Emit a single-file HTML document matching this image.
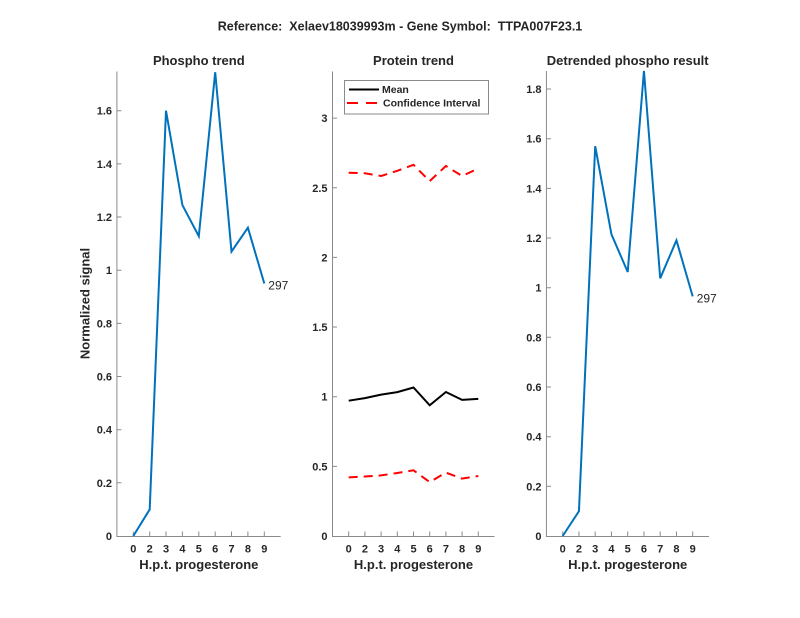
<!DOCTYPE html>
<html>
<head>
<meta charset="utf-8">
<style>
html,body{margin:0;padding:0;background:#fff;}
svg{display:block;}
text{font-family:"Liberation Sans",Arial,sans-serif;fill:#262626;}
.tk{font-size:11px;font-weight:bold;}
.lg{font-size:10.5px;font-weight:bold;}
.ttl{font-size:13px;font-weight:bold;}
.ax{stroke:#8a8a8a;stroke-width:1;fill:none;}
</style>
</head>
<body>
<svg width="800" height="618" viewBox="0 0 800 618" xmlns="http://www.w3.org/2000/svg">
<rect width="800" height="618" fill="#fff"/>

<!-- Main title -->
<text x="400" y="30.5" text-anchor="middle" style="font-size:12.5px;font-weight:bold" xml:space="preserve">Reference:  Xelaev18039993m - Gene Symbol:  TTPA007F23.1</text>

<!-- ============ Left panel ============ -->
<text x="198.8" y="65" text-anchor="middle" class="ttl">Phospho trend</text>
<path class="ax" d="M116.9,71.5 V536.5 H280.7"/>
<g class="ax">
<path d="M116.9,482.8h4.5M116.9,429.7h4.5M116.9,376.5h4.5M116.9,323.4h4.5M116.9,270.2h4.5M116.9,217h4.5M116.9,163.9h4.5M116.9,110.7h4.5"/>
<path d="M133.3,536v-4.5M149.7,536v-4.5M166,536v-4.5M182.4,536v-4.5M198.8,536v-4.5M215.2,536v-4.5M231.5,536v-4.5M247.9,536v-4.5M264.3,536v-4.5"/>
</g>
<g class="tk" text-anchor="end">
<text x="112" y="540">0</text>
<text x="112" y="486.8">0.2</text>
<text x="112" y="433.7">0.4</text>
<text x="112" y="380.5">0.6</text>
<text x="112" y="327.4">0.8</text>
<text x="112" y="274.2">1</text>
<text x="112" y="221">1.2</text>
<text x="112" y="167.9">1.4</text>
<text x="112" y="114.7">1.6</text>
</g>
<g class="tk" text-anchor="middle">
<text x="133.3" y="552.5">0</text>
<text x="149.7" y="552.5">2</text>
<text x="166" y="552.5">3</text>
<text x="182.4" y="552.5">4</text>
<text x="198.8" y="552.5">5</text>
<text x="215.2" y="552.5">6</text>
<text x="231.5" y="552.5">7</text>
<text x="247.9" y="552.5">8</text>
<text x="264.3" y="552.5">9</text>
</g>
<text x="198.8" y="569" text-anchor="middle" class="ttl">H.p.t. progesterone</text>
<text transform="translate(89.5,303.5) rotate(-90)" text-anchor="middle" class="ttl">Normalized signal</text>
<polyline fill="none" stroke="#0072BD" stroke-width="2" stroke-linejoin="miter" points="133.3,536 149.7,509.4 166,110.7 182.4,205.1 198.8,236.2 215.2,72.2 231.5,251.6 247.9,227.7 264.3,283.5"/>
<text x="268.3" y="289.3" style="font-size:12px">297</text>

<!-- ============ Middle panel ============ -->
<text x="413.5" y="65" text-anchor="middle" class="ttl">Protein trend</text>
<path class="ax" d="M332.5,71.5 V536.5 H494.5"/>
<g class="ax">
<path d="M332.5,466.35h4.5M332.5,396.7h4.5M332.5,327.05h4.5M332.5,257.4h4.5M332.5,187.75h4.5M332.5,118.1h4.5"/>
<path d="M348.7,536v-4.5M364.9,536v-4.5M381.1,536v-4.5M397.3,536v-4.5M413.5,536v-4.5M429.7,536v-4.5M445.9,536v-4.5M462.1,536v-4.5M478.3,536v-4.5"/>
</g>
<g class="tk" text-anchor="end">
<text x="327.5" y="540">0</text>
<text x="327.5" y="470.35">0.5</text>
<text x="327.5" y="400.7">1</text>
<text x="327.5" y="331.05">1.5</text>
<text x="327.5" y="261.4">2</text>
<text x="327.5" y="191.75">2.5</text>
<text x="327.5" y="122.1">3</text>
</g>
<g class="tk" text-anchor="middle">
<text x="348.7" y="552.5">0</text>
<text x="364.9" y="552.5">2</text>
<text x="381.1" y="552.5">3</text>
<text x="397.3" y="552.5">4</text>
<text x="413.5" y="552.5">5</text>
<text x="429.7" y="552.5">6</text>
<text x="445.9" y="552.5">7</text>
<text x="462.1" y="552.5">8</text>
<text x="478.3" y="552.5">9</text>
</g>
<text x="413.5" y="569" text-anchor="middle" class="ttl">H.p.t. progesterone</text>
<polyline fill="none" stroke="#000" stroke-width="2" points="348.7,400.7 364.9,398.1 381.1,394.6 397.3,392.1 413.5,387.5 429.7,405.3 445.9,392 462.1,399.9 478.3,398.9"/>
<polyline fill="none" stroke="#FF0000" stroke-width="2" stroke-dasharray="9,6" points="348.7,477.4 364.9,476.5 381.1,475.4 397.3,473 413.5,470.3 429.7,482.1 445.9,472.6 462.1,478.6 478.3,476"/>
<polyline fill="none" stroke="#FF0000" stroke-width="2" stroke-dasharray="9,6" points="348.7,172.7 364.9,173.3 381.1,176 397.3,170.8 413.5,164.8 429.7,181.1 445.9,166 462.1,176 478.3,168.5"/>
<!-- legend -->
<rect x="344.5" y="80.5" width="144" height="33.5" fill="#fff" stroke="#8a8a8a" stroke-width="1"/>
<line x1="349" y1="89.5" x2="379" y2="89.5" stroke="#000" stroke-width="2"/>
<line x1="347" y1="103" x2="379" y2="103" stroke="#FF0000" stroke-width="2" stroke-dasharray="11,8"/>
<text x="382" y="93" class="lg">Mean</text>
<text x="383" y="106.5" class="lg">Confidence Interval</text>

<!-- ============ Right panel ============ -->
<text x="627.7" y="65" text-anchor="middle" class="ttl">Detrended phospho result</text>
<path class="ax" d="M546.45,71 V536.5 H709"/>
<g class="ax">
<path d="M546.45,486.3h4.5M546.45,436.7h4.5M546.45,387h4.5M546.45,337.3h4.5M546.45,287.7h4.5M546.45,238h4.5M546.45,188.4h4.5M546.45,138.7h4.5M546.45,89h4.5"/>
<path d="M562.7,536v-4.5M578.95,536v-4.5M595.2,536v-4.5M611.45,536v-4.5M627.7,536v-4.5M643.95,536v-4.5M660.2,536v-4.5M676.45,536v-4.5M692.7,536v-4.5"/>
</g>
<g class="tk" text-anchor="end">
<text x="541.5" y="540">0</text>
<text x="541.5" y="490.3">0.2</text>
<text x="541.5" y="440.7">0.4</text>
<text x="541.5" y="391">0.6</text>
<text x="541.5" y="341.3">0.8</text>
<text x="541.5" y="291.7">1</text>
<text x="541.5" y="242">1.2</text>
<text x="541.5" y="192.4">1.4</text>
<text x="541.5" y="142.7">1.6</text>
<text x="541.5" y="93">1.8</text>
</g>
<g class="tk" text-anchor="middle">
<text x="562.7" y="552.5">0</text>
<text x="578.95" y="552.5">2</text>
<text x="595.2" y="552.5">3</text>
<text x="611.45" y="552.5">4</text>
<text x="627.7" y="552.5">5</text>
<text x="643.95" y="552.5">6</text>
<text x="660.2" y="552.5">7</text>
<text x="676.45" y="552.5">8</text>
<text x="692.7" y="552.5">9</text>
</g>
<text x="627.7" y="569" text-anchor="middle" class="ttl">H.p.t. progesterone</text>
<polyline fill="none" stroke="#0072BD" stroke-width="2" points="562.7,536 578.95,511.2 595.2,146.2 611.45,234.3 627.7,272 643.95,70.9 660.2,278.3 676.45,240.3 692.7,296.4"/>
<text x="696.7" y="302.3" style="font-size:12px">297</text>
</svg>
</body>
</html>
